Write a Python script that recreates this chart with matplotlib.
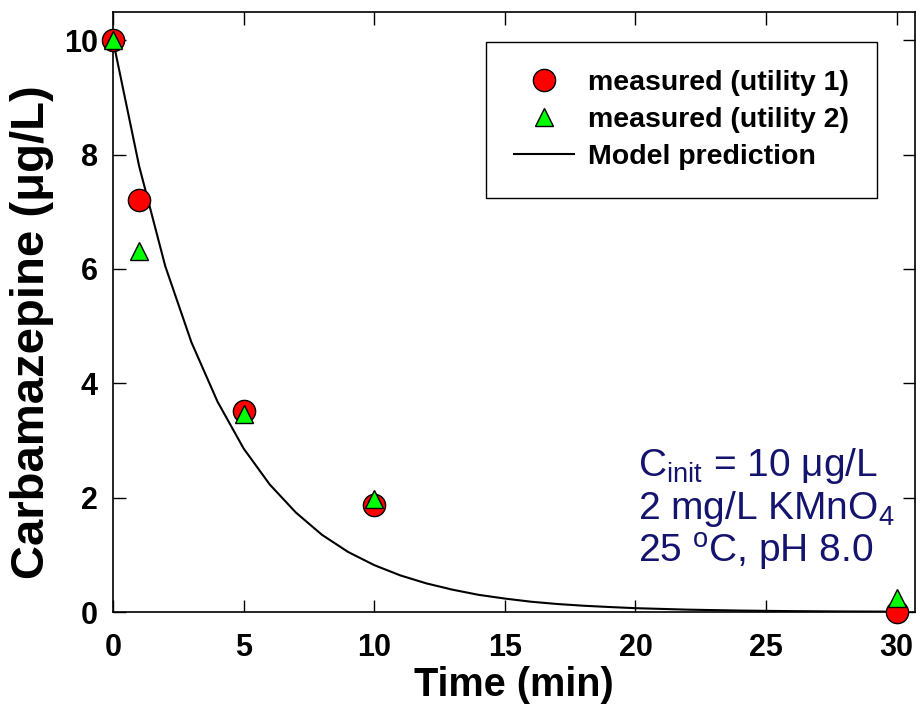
import numpy as np
import matplotlib
matplotlib.use("Agg")
import matplotlib.pyplot as plt

# measured data
time_u1 = [0, 1, 5, 10, 30]
conc_u1 = [10.0, 7.2, 3.52, 1.87, 0.0]
time_u2 = [0, 1, 5, 10, 30]
conc_u2 = [10.0, 6.32, 3.47, 1.97, 0.25]

# model curve
time_model = [0, 1, 2, 3, 4, 5, 6, 7, 8, 9, 10, 11, 12, 13, 14, 15, 16, 17, 18, 19, 20, 22, 24, 26, 28, 30]
conc_model = [10.0, 7.8, 6.05, 4.72, 3.68, 2.86, 2.23, 1.74, 1.35, 1.05, 0.82, 0.64, 0.50, 0.39, 0.30,
              0.235, 0.18, 0.14, 0.11, 0.087, 0.067, 0.041, 0.025, 0.015, 0.009, 0.006]

xticks = [0, 5, 10, 15, 20, 25, 30]
yticks = [0, 2, 4, 6, 8, 10]
note_lines = ['C$_\\mathregular{init}$ = 10 μg/L',
              '2 mg/L KMnO$_\\mathregular{4}$',
              '25 $^\\mathregular{o}$C, pH 8.0']

plt.rcParams['font.family'] = ['Liberation Sans', 'DejaVu Sans']
plt.rcParams['mathtext.fontset'] = 'custom'
plt.rcParams['mathtext.rm'] = 'Liberation Sans'

W, H = 916, 717
fig = plt.figure(figsize=(W/100, H/100), dpi=100)
ax = fig.add_axes([113/W, 105/H, (915-113)/W, (705.3-105)/H])

ax.plot(time_model, conc_model, color='black', lw=1.5, label='Model prediction', zorder=2)
ax.plot(time_u1, conc_u1, 'o', ms=16, mfc='#ff0000', mec='black', mew=1.0,
        label='measured (utility 1)', clip_on=False, zorder=3)
ax.plot(time_u2, conc_u2, '^', ms=13, mfc='#00ff00', mec='black', mew=1.0,
        label='measured (utility 2)', clip_on=False, zorder=4)

ax.set_xlim(0, 30.7)
ax.set_ylim(0, 10.5)
ax.set_xticks(xticks)
ax.set_yticks(yticks)
ax.tick_params(direction='in', length=9, width=1, top=True, right=True, labelsize=22)
ax.tick_params(axis='x', pad=15)
ax.tick_params(axis='y', pad=11)
for lab in ax.get_xticklabels() + ax.get_yticklabels():
    lab.set_fontweight('bold')
for s in ax.spines.values():
    s.set_linewidth(1.2)

ax.set_xlabel('Time (min)', fontsize=28.5, fontweight='bold', labelpad=2)
ax.set_ylabel('Carbamazepine (μg/L)', fontsize=34, fontweight='bold')
ax.yaxis.set_label_coords((54-113)/802, (612-332)/600.3)

handles, labels = ax.get_legend_handles_labels()
order = [1, 2, 0]
leg = ax.legend([handles[i] for i in order], [labels[i] for i in order],
                loc='upper right', bbox_to_anchor=(877/W, (H-42)/H), bbox_transform=fig.transFigure,
                prop={'size': 20.5, 'weight': 'bold'}, fancybox=False, edgecolor='black',
                framealpha=1, handlelength=2.1, handletextpad=0.52, borderpad=0.97,
                borderaxespad=0, labelspacing=0.4)
leg.get_frame().set_linewidth(1.0)

for line, ypix in zip(note_lines, [461, 504, 547]):
    ax.text(638/W, (H-ypix)/H, line, transform=fig.transFigure, fontsize=28,
            color='#14146e', va='center_baseline', ha='left')

fig.savefig('out.png', dpi=100)
